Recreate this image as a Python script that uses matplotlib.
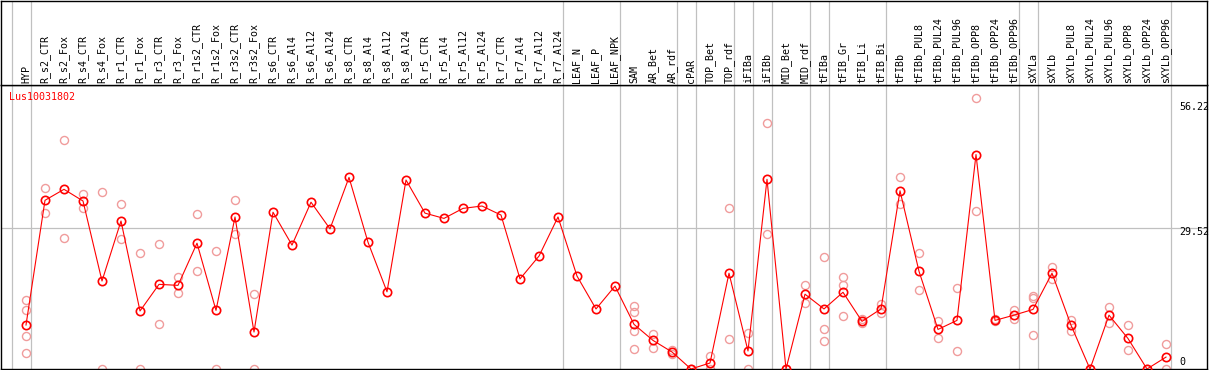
import matplotlib
matplotlib.use("Agg")
import matplotlib.pyplot as plt
import matplotlib.transforms as mtransforms

categories = ["HYP", "R_s2_CTR", "R_s2_Fox", "R_s4_CTR", "R_s4_Fox", "R_r1_CTR", "R_r1_Fox",
              "R_r3_CTR", "R_r3_Fox", "R_r1s2_CTR", "R_r1s2_Fox", "R_r3s2_CTR", "R_r3s2_Fox",
              "R_s6_CTR", "R_s6_Al4", "R_s6_Al12", "R_s6_Al24", "R_s8_CTR", "R_s8_Al4",
              "R_s8_Al12", "R_s8_Al24", "R_r5_CTR", "R_r5_Al4", "R_r5_Al12", "R_r5_Al24",
              "R_r7_CTR", "R_r7_Al4", "R_r7_Al12", "R_r7_Al24", "LEAF_N", "LEAF_P", "LEAF_NPK",
              "SAM", "AR_Bet", "AR_rdf", "cPAR", "TOP_Bet", "TOP_rdf", "iFIBa", "iFIBb",
              "MID_Bet", "MID_rdf", "tFIBa", "tFIB_Gr", "tFIB_Li", "tFIB_Bi", "tFIBb",
              "tFIBb_PUL8", "tFIBb_PUL24", "tFIBb_PUL96", "tFIBb_OPP8", "tFIBb_OPP24",
              "tFIBb_OPP96", "sXYLa", "sXYLb", "sXYLb_PUL8", "sXYLb_PUL24", "sXYLb_PUL96",
              "sXYLb_OPP8", "sXYLb_OPP24", "sXYLb_OPP96"]

means = [9.23, 35.4, 37.7, 35.25, 18.46, 31.05, 12.17, 17.76, 17.55, 26.4, 12.3, 31.9, 7.76,
         32.9, 26.0, 35.0, 29.4, 40.2, 26.6, 16.2, 39.66, 32.7, 31.6, 33.7, 34.2, 32.3, 18.9,
         23.7, 31.9, 19.5, 12.6, 17.4, 9.37, 6.0, 3.57, 0.0, 1.26, 20.1, 3.78, 39.8, 0.0, 15.7,
         12.6, 16.1, 10.0, 12.6, 37.4, 20.5, 8.3, 10.2, 45.0, 10.2, 11.3, 12.5, 20.1, 9.2, 0.0,
         11.3, 6.4, 0.0, 2.5]

replicates = [[14.5, 12.3, 6.9, 3.4], [38.0, 32.7], [48.0, 27.4], [36.7, 33.7], [37.1, 0.0],
              [34.55, 27.2], [24.3, 0.0], [26.2, 9.4], [19.2, 15.9], [32.5, 20.6], [24.8, 0.0],
              [35.4, 28.3], [15.7, 0.0], [], [], [], [], [], [], [], [], [], [], [], [], [], [],
              [], [], [], [], [], [13.3, 12.0, 8.0, 4.1], [7.3, 4.5], [3.9, 3.1], [0.0],
              [2.7, 0.0], [33.7, 6.2], [7.5, 0.0], [51.55, 28.3], [0.0], [17.6, 13.8],
              [23.5, 8.3, 5.8], [19.2, 17.7, 11.05], [10.4, 9.7], [13.6, 11.8], [40.2, 34.55],
              [24.3, 16.6], [10.1, 6.4], [16.9, 3.8], [56.8, 33.1], [10.4, 10.0], [12.4, 10.4],
              [15.25, 15.0, 7.07], [21.4, 18.9], [10.3, 8.0], [0.0], [13.0, 9.65], [9.2, 3.9],
              [0.0], [5.2, 0.0]]

group_ends = [-1, 0, 28, 31, 34, 35, 37, 38, 39, 41, 42, 45, 52, 53, 60]
y_ticks = [0, 29.52, 56.22]
gene = "Lus10031802"

W, H = 1209, 370
fig = plt.figure(figsize=(W / 100, H / 100), dpi=100)
FONT = "DejaVu Sans Mono"
FS = 7.2
GRAY = "#c0c0c0"

plot_ax = fig.add_axes([1 / W, 1 / H, 1206 / W, 284 / H])
head_ax = fig.add_axes([1 / W, 285 / H, 1206 / W, 84.5 / H], sharex=plot_ax)

x = list(range(len(categories)))
xmin = (1 - 26) / 19
xmax = (1207 - 26) / 19
plot_ax.set_xlim(xmin, xmax)
plot_ax.set_ylim(0, (369 - 85) / 4.766)
head_ax.set_ylim(0, 1)

for ax in (plot_ax, head_ax):
    ax.set_xticks([])
    ax.set_yticks([])
    for s in ax.spines.values():
        s.set_linewidth(1.0)
        s.set_color("black")
    for g in group_ends:
        ax.axvline(g + 0.237, color=GRAY, lw=0.9, zorder=1)

plot_ax.axhline(29.52, color=GRAY, lw=0.9, zorder=1)

# replicates
rx, ry = [], []
for i, reps in enumerate(replicates):
    for r in reps:
        rx.append(i)
        ry.append(r)
plot_ax.plot(rx, ry, linestyle="none", marker="o", markersize=5.8, markerfacecolor="none",
             markeredgecolor="#f09c9c", markeredgewidth=1.0, zorder=2)

plot_ax.plot(x, means, color="#ff0000", lw=0.8, zorder=3)
plot_ax.plot(x, means, linestyle="none", marker="o", markersize=6.0, markerfacecolor="none",
             markeredgecolor="#ff0000", markeredgewidth=1.2, zorder=4)

# header labels
trans = mtransforms.blended_transform_factory(head_ax.transData, head_ax.transAxes)
for i, c in enumerate(categories):
    head_ax.text(i, 2 / 84.5, c, rotation=90, ha="center", va="bottom", transform=trans,
                 fontsize=FS, family=FONT, color="black")

fig.text(9 / W, 1 - 97.5 / H, gene, color="#ff0000", fontsize=FS, family=FONT,
         ha="left", va="center")

label_pos = [362, 232, 107]
for v, yp in zip(y_ticks, label_pos):
    txt = "0" if v == 0 else f"{v:.2f}"
    fig.text(1179 / W, 1 - yp / H, txt, color="black", fontsize=FS, family=FONT,
             ha="left", va="center")

fig.savefig("out.png", dpi=100)
